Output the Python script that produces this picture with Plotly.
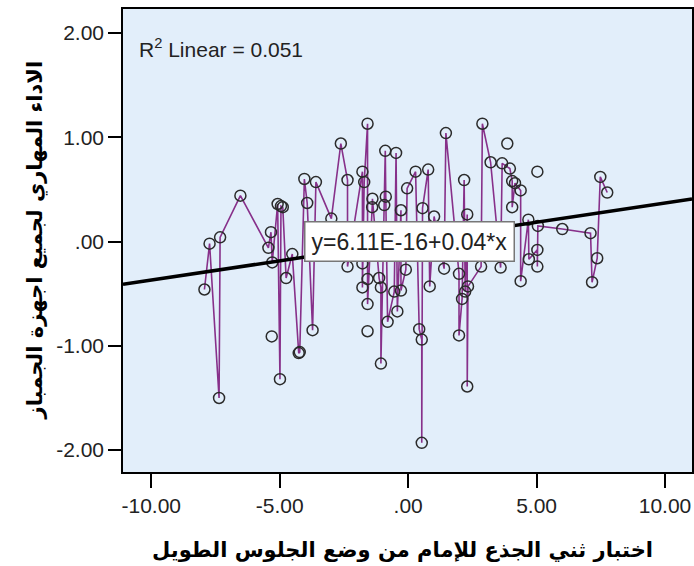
import plotly.graph_objects as go

# Points joined by the interpolation line
x_linked = [-7.93, -7.73, -7.36, -7.32, -6.53, -5.44, -5.34, -5.29, -5.08, -4.95, -4.88,
            -4.99, -4.75, -4.51, -4.26, -4.22, -4.04, -3.93, -3.72, -3.59, -2.99, -2.62,
            -2.36, -2.36, -1.78, -1.78, -1.78, -1.71, -1.58, -1.58, -1.58, -1.40, -1.39,
            -1.13, -1.06, -1.06, -0.93, -0.89, -0.87, -0.80, -0.54, -0.47, -0.42, -0.28,
            -0.28, -0.09, -0.04, 0.29, 0.43, 0.53, 0.53, 0.56, 0.78, 0.84, 1.01, 1.40,
            1.47, 1.98, 1.98, 2.10, 2.18, 2.22, 2.30, 2.30, 2.33, 2.84, 2.89, 3.21, 3.60,
            3.66, 3.96, 4.05, 4.05, 4.16, 4.38, 4.38, 4.68, 4.70, 5.03, 5.03, 5.05, 6.00,
            7.10, 7.16, 7.36, 7.48, 7.75]
y_linked = [-0.46, -0.02, -1.50, 0.04, 0.44, -0.06, 0.09, -0.20, 0.36, 0.34, 0.33,
            -1.32, -0.35, -0.12, -1.07, -1.06, 0.60, 0.37, -0.85, 0.57, 0.22, 0.94,
            0.59, -0.24, 0.67, -0.21, -0.44, 0.57, 1.13, -0.36, -0.60, 0.33, 0.41,
            -0.35, -0.44, -1.17, 0.35, 0.87, 0.43, -0.77, -0.48, 0.85, -0.67, 0.30,
            -0.47, -0.27, 0.51, 0.67, -0.84, -0.94, -1.93, 0.32, 0.69, -0.43, 0.24, -0.26,
            1.04, -0.31, -0.90, -0.55, 0.59, -0.48, 0.26, -1.39, -0.43, -0.24, 1.13, 0.76, -0.25,
            0.75, 0.70, 0.58, 0.33, 0.56, 0.49, -0.38, 0.21, -0.17, -0.08, -0.24, 0.15, 0.12,
            0.08, -0.39, -0.16, 0.62, 0.47]

# Points drawn as markers only
x_single = [-5.31, -1.58, 3.86, 5.03]
y_single = [-0.91, -0.86, 0.94, 0.67]

# Linear fit shown on the chart
fit_x = [-11.1, 11.05]
fit_intercept = 0.0
fit_slope = 0.037
fit_label = "y=6.11E-16+0.04*x"
r2_label = "R<sup>2</sup> Linear = 0.051"

x_ticks = [-10, -5, 0, 5, 10]
x_tick_text = ["-10.00", "-5.00", ".00", "5.00", "10.00"]
y_ticks = [2, 1, 0, -1, -2]
y_tick_text = ["2.00", "1.00", ".00", "-1.00", "-2.00"]

x_title = "اختبار ثني الجذع للإمام من وضع الجلوس الطويل"
y_title = "الاداء المهاري لجميع اجهزة الجمباز"

order = sorted(range(len(x_linked)), key=lambda i: x_linked[i])
lx = [x_linked[i] for i in order]
ly = [y_linked[i] for i in order]

fig = go.Figure()
fig.add_trace(go.Scatter(x=lx, y=ly, mode="lines",
                         line=dict(color="#87308A", width=1.6), hoverinfo="skip"))
fig.add_trace(go.Scatter(x=x_linked + x_single, y=y_linked + y_single, mode="markers",
                         marker=dict(symbol="circle-open", size=11, color="#2b2b2b",
                                     line=dict(width=1.5, color="#2b2b2b"))))
fig.add_trace(go.Scatter(x=fit_x, y=[fit_intercept + fit_slope * v for v in fit_x],
                         mode="lines", line=dict(color="black", width=3.5)))

tick_font = dict(family="Liberation Sans, Arial", size=21, color="#222222")
fig.update_layout(
    width=694, height=566,
    margin=dict(l=123, r=2, t=9, b=94),
    paper_bgcolor="white", plot_bgcolor="#E2EEFA",
    showlegend=False,
    xaxis=dict(range=[-11.1, 11.05], tickvals=x_ticks, ticktext=x_tick_text,
               ticks="outside", ticklen=14, tickwidth=1.5, tickcolor="black",
               showgrid=False, zeroline=False, showline=True, linecolor="black",
               linewidth=1.5, mirror=True, tickfont=tick_font, automargin=False),
    yaxis=dict(range=[-2.21, 2.23], tickvals=y_ticks, ticktext=y_tick_text,
               ticks="outside", ticklen=13, tickwidth=1.5, tickcolor="black",
               showgrid=False, zeroline=False, showline=True, linecolor="black",
               linewidth=1.5, mirror=True, tickfont=tick_font, automargin=False),
    annotations=[
        dict(text=r2_label, xref="paper", yref="paper", x=0.024, y=0.916,
             xanchor="left", yanchor="middle", showarrow=False,
             font=dict(family="Liberation Sans, Arial", size=21, color="#222222")),
        dict(text=fit_label, xref="x", yref="y", x=0.05, y=0.0,
             xanchor="center", yanchor="middle", showarrow=False,
             bgcolor="white", bordercolor="#777777", borderwidth=1.5, borderpad=6,
             font=dict(family="Liberation Sans, Arial", size=23, color="#222222")),
        dict(text=x_title, xref="paper", yref="paper", x=0.491, y=-0.168,
             xanchor="center", yanchor="middle", showarrow=False,
             font=dict(family="DejaVu Sans", size=21, color="black", weight="bold")),
        dict(text=y_title, xref="paper", yref="paper", x=-0.154, y=0.501,
             xanchor="center", yanchor="middle", showarrow=False, textangle=-90,
             font=dict(family="DejaVu Sans", size=21, color="black", weight="bold")),
    ],
)

# remove the browser's default page margin so the figure fills the window
fig.write_html("out.html", config={"displayModeBar": False},
               post_script="document.body.style.margin='0px';")
